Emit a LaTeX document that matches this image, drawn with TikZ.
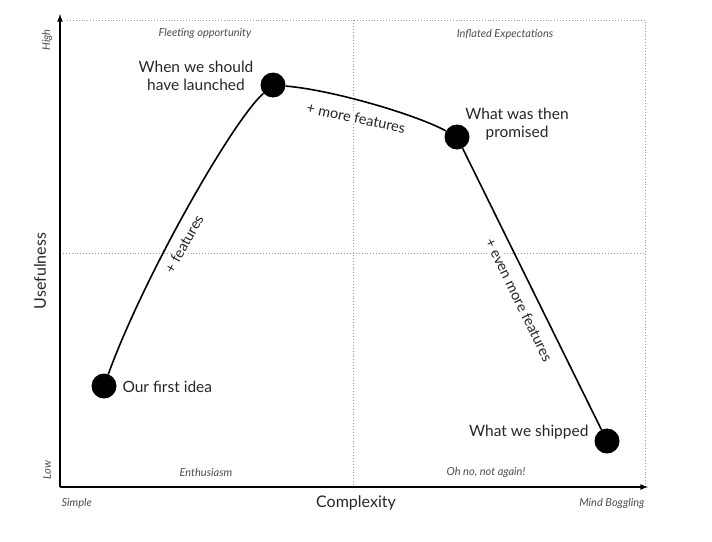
\documentclass[tikz,border=0pt]{standalone}
\usepackage{fontspec}
\setmainfont{Lato}
\usetikzlibrary{positioning}

\begin{document}
\begin{tikzpicture}[x=1pt, y=-1pt,
		dot/.style={circle, fill=black, minimum size=25pt, inner sep=0pt},
		note/.style={font=\fontsize{15.5}{18}\selectfont, align=center, text=black!85},
		quad/.style={font=\itshape\fontsize{11}{12}\selectfont, text=black!70},
		axtitle/.style={font=\fontsize{16}{17}\selectfont, text=black!85},
		tag/.style={font=\fontsize{14.5}{15}\selectfont, text=black!85, fill=white, inner sep=1pt},
		gridline/.style={dotted, black!40, line width=0.9pt},
		curve/.style={line width=1.6pt}]
			%%%%% START %%%%%
			
			\useasboundingbox (0, 0) rectangle (712, 541);
			
			\coordinate (origin) at (60, 487);
			\coordinate (ytop) at (60, 14);
			\coordinate (xend) at (648, 487);
			
			\draw[gridline] (67, 20) -- (645, 20) -- (645, 487);
			\draw[gridline] (353, 20) -- (353, 487);
			\draw[gridline] (60, 253) -- (645, 253);
			
			\draw[line width=1.6pt, -latex] (origin) -- (ytop);
			\draw[line width=1.6pt, -latex] (origin) -- (xend);
			
			\node[quad] (fleet) at (205, 33) {Fleeting opportunity};
			\node[quad] (inflate) at (505, 34) {Inflated Expectations};
			\node[quad] (enthus) at (206, 472) {Enthusiasm};
			\node[quad] (again) at (486, 472) {Oh no, not again!};
			\node[quad, anchor=west] (simple) at (58, 503) {Simple};
			\node[quad, anchor=east] (boggle) at (648, 503) {Mind Boggling};
			\node[quad, rotate=90] (high) at (47, 40) {High};
			\node[quad, rotate=90] (low) at (47, 470) {Low};
			
			\node[axtitle] (cplx) at (356, 503) {Complexity};
			\node[axtitle, rotate=90] (useful) at (40, 271) {Usefulness};
			
			\node[dot] (idea) at (104, 386) {};
			\node[dot] (launch) at (273, 85) {};
			\node[dot] (promise) at (457, 137) {};
			\node[dot] (shipped) at (607, 441) {};
			
			\node[note, anchor=west] (ideatxt) at (119, 387) {Our first idea};
			\node[note] (launchtxt) at (196, 76) {When we should\\have launched};
			\node[note] (promisetxt) at (517, 124) {What was then\\promised};
			\node[note, anchor=east] (shiptxt) at (592, 432) {What we shipped};
			
			\node[tag, rotate=61] (feat) at (184, 244) {+ features};
			\node[tag, rotate=-12] (morefeat) at (356, 118) {+ more features};
			\node[tag, rotate=-64] (evenfeat) at (519, 300) {+ even more features};
			
			\draw[curve] (idea) .. controls +(40, -110) and +(-40, 35) .. (launch);
			\draw[curve] (launch) .. controls +(60, 5) and +(-40, -22) .. (promise);
			\draw[curve] (promise) -- (shipped);
			
			%%%%% END %%%%%
		\end{tikzpicture}
\end{document}
